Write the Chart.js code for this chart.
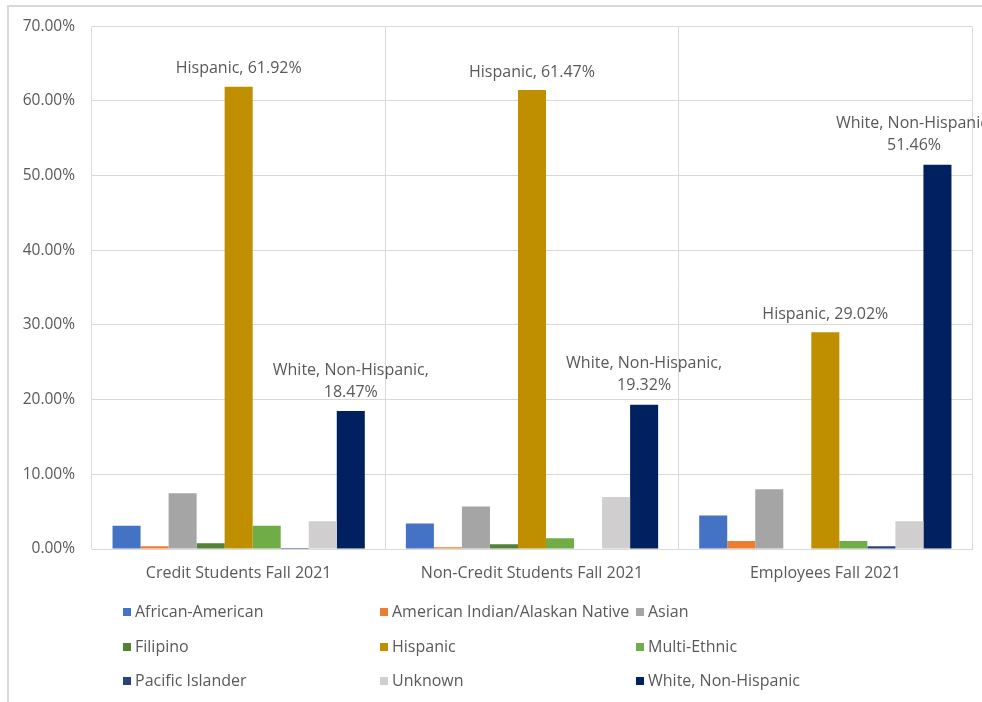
<!DOCTYPE html>
<html>
<head>
<meta charset="utf-8">
<script src="https://cdn.jsdelivr.net/npm/chart.js@4.4.1/dist/chart.umd.min.js"></script>
<style>
    html, body { margin: 0; padding: 0; background: #fff; }
    #wrap { position: relative; width: 982px; height: 702px; }
    #frame { position: absolute; left: 7px; top: 5px; right: 0; bottom: 0;
             border-left: 2px solid #d9d9d9; border-top: 2px solid #d9d9d9; }
    canvas { position: absolute; left: 0; top: 0; }
</style>
</head>
<body>
<div id="wrap">
    <div id="frame"></div>
    <canvas id="ethnicityChart" width="982" height="702"></canvas>
</div>
<script>
const categories = ['Credit Students Fall 2021', 'Non-Credit Students Fall 2021', 'Employees Fall 2021'];

const africanAmerican = [3.10, 3.40, 4.50];
const americanIndian = [0.36, 0.25, 1.07];
const asian = [7.45, 5.70, 8.00];
const filipino = [0.76, 0.63, 0];
const hispanic = [61.92, 61.47, 29.02];
const multiEthnic = [3.10, 1.43, 1.07];
const pacificIslander = [0.15, 0, 0.36];
const unknown = [3.70, 6.96, 3.70];
const whiteNonHispanic = [18.47, 19.32, 51.46];

const yTicks = [0, 10, 20, 30, 40, 50, 60, 70];

const labelledSeries = ['Hispanic', 'White, Non-Hispanic'];

const FONT = '"Open Sans", "Liberation Sans", sans-serif';
const TEXT = '#595959';

const series = [
    ['African-American', africanAmerican, '#4472C4'],
    ['American Indian/Alaskan Native', americanIndian, '#ED7D31'],
    ['Asian', asian, '#A5A5A5'],
    ['Filipino', filipino, '#548235'],
    ['Hispanic', hispanic, '#BF8F00'],
    ['Multi-Ethnic', multiEthnic, '#70AD47'],
    ['Pacific Islander', pacificIslander, '#264478'],
    ['Unknown', unknown, '#D0CECE'],
    ['White, Non-Hispanic', whiteNonHispanic, '#002060']
];

// bar labels like the excel data labels (series name, value)
const barLabels = {
    id: 'barLabels',
    afterDatasetsDraw(chart) {
        const ctx = chart.ctx;
        const area = chart.chartArea;
        ctx.save();
        ctx.font = '16px ' + FONT;
        ctx.fillStyle = TEXT;
        ctx.textAlign = 'center';
        ctx.textBaseline = 'middle';
        chart.data.datasets.forEach((ds, i) => {
            if (!labelledSeries.includes(ds.label)) return;
            chart.getDatasetMeta(i).data.forEach((bar, j) => {
                const val = ds.data[j].toFixed(2) + '%';
                const x = Math.min(bar.x, area.right - 58);
                if (ds.label === 'Hispanic') {
                    ctx.fillText(ds.label + ', ' + val, x, bar.y - 18);
                } else {
                    ctx.fillText(ds.label + ',', x, bar.y - 41);
                    ctx.fillText(val, x, bar.y - 19);
                }
            });
        });
        ctx.restore();
    }
};

// three column legend under the axis
const gridLegend = {
    id: 'gridLegend',
    afterDraw(chart) {
        const ctx = chart.ctx;
        const cols = [127, 384, 640];
        const rows = [612, 647, 681];
        ctx.save();
        ctx.font = '16px ' + FONT;
        ctx.textBaseline = 'middle';
        ctx.textAlign = 'left';
        chart.data.datasets.forEach((ds, i) => {
            const x = cols[i % 3];
            const y = rows[Math.floor(i / 3)];
            ctx.fillStyle = ds.backgroundColor;
            ctx.fillRect(x - 4, y - 4, 8, 8);
            ctx.fillStyle = TEXT;
            ctx.fillText(ds.label, x + 8, y);
        });
        ctx.restore();
    }
};

const ctx = document.getElementById('ethnicityChart').getContext('2d');
const ethnicityChart = new Chart(ctx, {
    type: 'bar',
    data: {
        labels: categories,
        datasets: series.map(s => ({
            label: s[0],
            data: s[1],
            backgroundColor: s[2],
            borderWidth: 0,
            categoryPercentage: 0.86,
            barPercentage: 1
        }))
    },
    options: {
        responsive: false,
        animation: false,
        layout: { padding: { top: 26, right: 10, left: 0, bottom: 0 } },
        plugins: {
            legend: { display: false },
            tooltip: { enabled: false }
        },
        scales: {
            x: {
                grid: { offset: true, color: '#d9d9d9', drawTicks: false },
                border: { color: '#d9d9d9' },
                ticks: { color: TEXT, font: { family: FONT, size: 16 }, padding: 15 },
                afterFit: scale => { scale.height = 153; }
            },
            y: {
                min: 0,
                max: 70,
                afterBuildTicks: scale => { scale.ticks = yTicks.map(v => ({ value: v })); },
                grid: { color: '#d9d9d9', drawTicks: false },
                border: { display: false },
                ticks: {
                    color: TEXT,
                    font: { family: FONT, size: 15.5 },
                    padding: 17,
                    callback: v => v.toFixed(2) + '%'
                },
                afterFit: scale => { scale.width = 92; }
            }
        }
    },
    plugins: [barLabels, gridLegend]
});
</script>
</body>
</html>
